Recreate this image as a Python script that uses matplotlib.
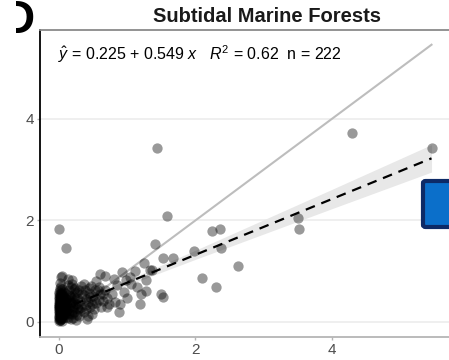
import numpy as np
import matplotlib.pyplot as plt
from matplotlib.patches import FancyBboxPatch, Rectangle

# ======================================================================
# Datos
# ======================================================================

# Nube densa cerca del origen (x ~ 0 - 0.1)
xa = [0.00, 0.01, 0.02, 0.00, 0.03, 0.01, 0.05, 0.02, 0.00, 0.04,
      0.06, 0.01, 0.03, 0.00, 0.02, 0.07, 0.01, 0.04, 0.00, 0.02,
      0.05, 0.03, 0.08, 0.01, 0.00, 0.06, 0.02, 0.04, 0.09, 0.01,
      0.03, 0.00, 0.05, 0.02, 0.07, 0.01, 0.04, 0.00, 0.03, 0.06,
      0.02, 0.08, 0.00, 0.01, 0.05, 0.03, 0.10, 0.02, 0.04, 0.00,
      0.06, 0.01, 0.09, 0.03, 0.02, 0.07, 0.00, 0.05, 0.04, 0.01,
      0.08, 0.02, 0.03, 0.06, 0.00, 0.04, 0.10, 0.01, 0.05, 0.02,
      0.00, 0.03, 0.01, 0.06, 0.02, 0.04, 0.00, 0.08, 0.01, 0.05,
      0.03, 0.00, 0.07, 0.02, 0.04, 0.01, 0.09, 0.00, 0.06, 0.03]
ya = [0.02, 0.08, 0.15, 0.22, 0.05, 0.30, 0.12, 0.38, 0.45, 0.18,
      0.25, 0.52, 0.33, 0.60, 0.10, 0.20, 0.42, 0.28, 0.12, 0.48,
      0.35, 0.58, 0.14, 0.25, 0.35, 0.45, 0.66, 0.07, 0.30, 0.18,
      0.40, 0.28, 0.55, 0.03, 0.38, 0.62, 0.48, 0.50, 0.70, 0.16,
      0.27, 0.50, 0.06, 0.40, 0.24, 0.12, 0.22, 0.34, 0.60, 0.17,
      0.08, 0.55, 0.42, 0.26, 0.44, 0.29, 0.32, 0.64, 0.36, 0.04,
      0.18, 0.20, 0.50, 0.34, 0.26, 0.12, 0.46, 0.33, 0.02, 0.76,
      0.10, 0.20, 0.36, 0.52, 0.30, 0.42, 0.56, 0.24, 0.14, 0.46,
      0.08, 0.40, 0.60, 0.22, 0.30, 0.48, 0.16, 0.32, 0.38, 0.54]

# x ~ 0.1 - 0.35
xb = [0.12, 0.15, 0.18, 0.11, 0.22, 0.14, 0.25, 0.19, 0.13, 0.28,
      0.16, 0.21, 0.30, 0.12, 0.24, 0.17, 0.33, 0.20, 0.14, 0.27,
      0.23, 0.11, 0.31, 0.18, 0.26, 0.15, 0.34, 0.21, 0.13, 0.29,
      0.19, 0.25, 0.16, 0.32, 0.22, 0.12, 0.17, 0.24, 0.14, 0.20,
      0.28, 0.13, 0.26, 0.18, 0.31, 0.15, 0.22, 0.11, 0.27, 0.19]
yb = [0.10, 0.28, 0.05, 0.45, 0.20, 0.62, 0.35, 0.15, 0.72, 0.25,
      0.52, 0.40, 0.12, 0.32, 0.58, 0.68, 0.30, 0.08, 0.18, 0.48,
      0.66, 0.56, 0.42, 0.38, 0.14, 0.44, 0.55, 0.26, 0.85, 0.62,
      0.22, 0.04, 0.36, 0.70, 0.50, 0.24, 0.40, 0.46, 0.54, 0.30,
      0.36, 0.08, 0.60, 0.50, 0.22, 0.16, 0.64, 0.38, 0.28, 0.74]

# x ~ 0.35 - 0.75
xc = [0.36, 0.40, 0.45, 0.38, 0.50, 0.42, 0.55, 0.47, 0.60, 0.39,
      0.52, 0.44, 0.58, 0.65, 0.48, 0.37, 0.62, 0.54, 0.70, 0.43,
      0.57, 0.68, 0.41, 0.73, 0.51, 0.46, 0.36, 0.53, 0.64, 0.40,
      0.49, 0.59, 0.44, 0.67]
yc = [0.20, 0.45, 0.30, 0.62, 0.52, 0.12, 0.38, 0.70, 0.55, 0.33,
      0.25, 0.58, 0.68, 0.42, 0.16, 0.74, 0.30, 0.80, 0.48, 0.40,
      0.62, 0.90, 0.06, 0.35, 0.44, 0.50, 0.54, 0.62, 0.56, 0.26,
      0.36, 0.44, 0.66, 0.62]

# x ~ 0.75 - 1.4
xd = [0.78, 0.82, 0.88, 0.93, 0.85, 0.96, 0.80, 1.00, 0.90, 1.04,
      1.11, 1.06, 1.15, 1.19, 0.98, 1.25, 1.28, 1.27, 1.33, 1.36,
      1.20, 0.05, 0.19, 0.03, 0.60, 0.70]
yd = [0.55, 0.40, 0.20, 0.99, 0.72, 0.60, 0.85, 0.48, 0.35, 0.89,
      1.01, 0.75, 0.68, 0.35, 0.82, 1.16, 0.83, 0.61, 1.02, 1.03,
      0.55, 0.91, 0.83, 0.89, 0.95, 0.30]

# Puntos aislados
xe = [0.00, 0.11, 1.44, 1.59, 1.41, 1.53, 1.67, 1.98, 2.25, 2.36,
      2.38, 2.09, 2.30, 2.62, 1.50, 1.53, 3.51, 3.52, 4.30, 5.46]
ye = [1.83, 1.45, 3.42, 2.08, 1.54, 1.25, 1.25, 1.39, 1.80, 1.83,
      1.45, 0.86, 0.68, 1.11, 0.55, 0.50, 2.05, 1.83, 3.72, 3.42]

# Recta ajustada y banda de confianza
intercepto = 0.225
pendiente = 0.549
x_banda = [0.0, 1.0, 2.0, 3.0, 4.0, 5.46]
semiancho = [0.05, 0.05, 0.09, 0.14, 0.19, 0.27]

titulo = 'Subtidal Marine Forests'
etiqueta = r'$\hat{y}$ = 0.225 + 0.549 $x$   $R^2$ = 0.62  n = 222'

# ======================================================================
# Gráfica
# ======================================================================

plt.rcParams['font.family'] = ['Liberation Sans', 'DejaVu Sans']
plt.rcParams['mathtext.fontset'] = 'custom'
plt.rcParams['mathtext.rm'] = 'Liberation Sans'
plt.rcParams['mathtext.it'] = 'Liberation Sans:italic'
plt.rcParams['lines.scale_dashes'] = False

x = np.array(xa + xb + xc + xd + xe)
y = np.array(ya + yb + yc + yd + ye)

W, H = 449, 360
fig = plt.figure(figsize=(W / 100, H / 100), dpi=100)
ax = fig.add_axes([40 / W, (H - 337) / H, (482 - 40) / W, (337 - 30) / H])
ax.set_xlim(-0.278, 6.2)
ax.set_ylim(-0.296, 5.75)

# cuadrícula
for yv in [0, 2, 4]:
    ax.axhline(yv, color='#ebebeb', lw=1.1, zorder=0)

# banda de confianza
xb_arr = np.array(x_banda)
yfit_b = intercepto + pendiente * xb_arr
ax.fill_between(xb_arr, yfit_b - np.array(semiancho), yfit_b + np.array(semiancho),
                color='#e8e8e8', lw=0, zorder=1)

# línea 1:1
ax.plot([0, x.max()], [0, x.max()], color='#bdbdbd', lw=1.5, zorder=2)

# puntos
ax.scatter(x, y, s=55, color='black', alpha=0.4, lw=0, zorder=3)

# recta ajustada
xl = np.array([0, x.max()])
ax.plot(xl, intercepto + pendiente * xl, color='black', lw=1.6,
        dashes=(7, 5), zorder=4)

# ejes
ax.spines['right'].set_visible(False)
ax.spines['left'].set_color('black')
ax.spines['left'].set_linewidth(1.3)
ax.spines['bottom'].set_color('#b5b5b5')
ax.spines['bottom'].set_linewidth(1.3)
ax.spines['top'].set_color('#8a8a8a')
ax.spines['top'].set_linewidth(1.3)

ax.set_xticks([0, 2, 4])
ax.set_yticks([0, 2, 4])
ax.tick_params(axis='both', colors='#b5b5b5', labelcolor='#4d4d4d',
               labelsize=11, length=2.5, width=1, pad=2)

# textos
fig.text(267 / W, 1 - 16 / H, titulo, ha='center', va='center',
         fontsize=14.5, fontweight='bold', color='#1a1a1a')
fig.text(58 / W, 1 - 54 / H, etiqueta, ha='left', va='center',
         fontsize=11.5, color='black')
# letra del panel, recortada como en la figura original
letra = fig.text(35 / W, 1 - 21 / H, 'D', ha='right', va='center',
                 fontsize=33, fontweight='bold', color='black')
letra.set_clip_path(Rectangle((16 / W, 0), 30 / W, 1, transform=fig.transFigure))

# recuadro azul recortado
caja = FancyBboxPatch((423 / W, 1 - 227 / H), 50 / W, 46 / H,
                      boxstyle='round,pad=0,rounding_size=0.006',
                      transform=fig.transFigure, facecolor='#0b6fca',
                      edgecolor='#0d2a66', lw=3, zorder=10)
fig.patches.append(caja)

fig.savefig('out.png', dpi=100)
